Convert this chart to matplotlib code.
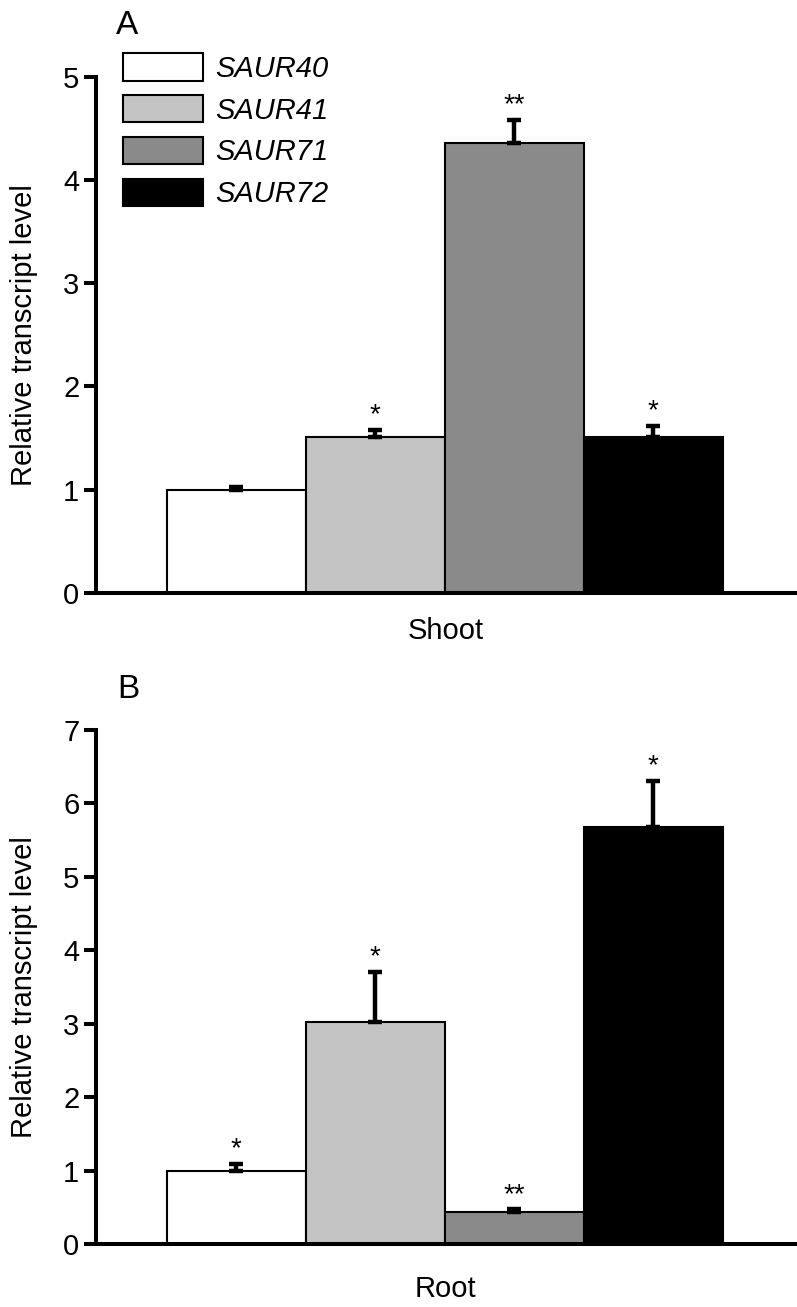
import matplotlib
matplotlib.use("Agg")
import matplotlib.pyplot as plt
import numpy as np

plt.rcParams['font.family'] = ['Liberation Sans', 'DejaVu Sans']

genes = ['SAUR40', 'SAUR41', 'SAUR71', 'SAUR72']
colors = ['#ffffff', '#c4c4c4', '#8a8a8a', '#000000']

shoot_mean = [1.00, 1.51, 4.36, 1.51]
shoot_err = [0.03, 0.07, 0.22, 0.11]
shoot_sig = ['', '*', '**', '*']

root_mean = [1.00, 3.02, 0.43, 5.68]
root_err = [0.09, 0.69, 0.04, 0.63]
root_sig = ['*', '*', '**', '*']

W, H = 797, 1307
fig = plt.figure(figsize=(W / 100, H / 100), dpi=100)


def panel(rect, means, errs, sigs, ymax, xlabel, xpad):
    ax = fig.add_axes(rect)
    x = np.arange(len(means))
    bars = ax.bar(x, means, width=1.0, color=colors, edgecolor='black',
                  linewidth=1.5, label=genes, zorder=2)
    ax.errorbar(x, means, yerr=[np.zeros(len(errs)), errs], fmt='none',
                ecolor='black', elinewidth=3.2, capsize=5, capthick=3.2, zorder=3)
    for xi, m, e, s in zip(x, means, errs, sigs):
        if s:
            ax.annotate(s, (xi, m + e), xytext=(0, 1), textcoords='offset points',
                        ha='center', va='bottom', fontsize=20)
    ax.set_xlim(-1.01, 4.02)
    ax.set_ylim(0, ymax)
    ax.set_yticks(range(0, ymax + 1))
    ax.set_xticks([])
    for side in ['top', 'right']:
        ax.spines[side].set_visible(False)
    for side in ['left', 'bottom']:
        ax.spines[side].set_linewidth(2.9)
    ax.tick_params(axis='y', length=9, width=2.9, labelsize=21, pad=3)
    ax.set_ylabel('Relative transcript level', fontsize=21, labelpad=18)
    ax.set_xlabel(xlabel, fontsize=21, labelpad=xpad)
    return ax, bars


axA, barsA = panel([96 / W, 1 - 593 / H, 699 / W, 516.3 / H],
                   shoot_mean, shoot_err, shoot_sig, 5, 'Shoot', 17)
axB, barsB = panel([96 / W, 1 - 1244 / H, 699 / W, 514 / H],
                   root_mean, root_err, root_sig, 7, 'Root', 22)

axA.legend(barsA, genes, loc='upper left', bbox_to_anchor=(0.0386, 1.045),
           frameon=False, borderpad=0, borderaxespad=0,
           prop={'style': 'italic', 'size': 21},
           handlelength=2.75, handleheight=1.05, handletextpad=0.42,
           labelspacing=0.42)

fig.text(127 / W, 1 - 25 / H, 'A', fontsize=24, ha='center', va='center')
fig.text(128 / W, 1 - 690 / H, 'B', fontsize=24, ha='center', va='center')

fig.savefig('out.png', dpi=100)
